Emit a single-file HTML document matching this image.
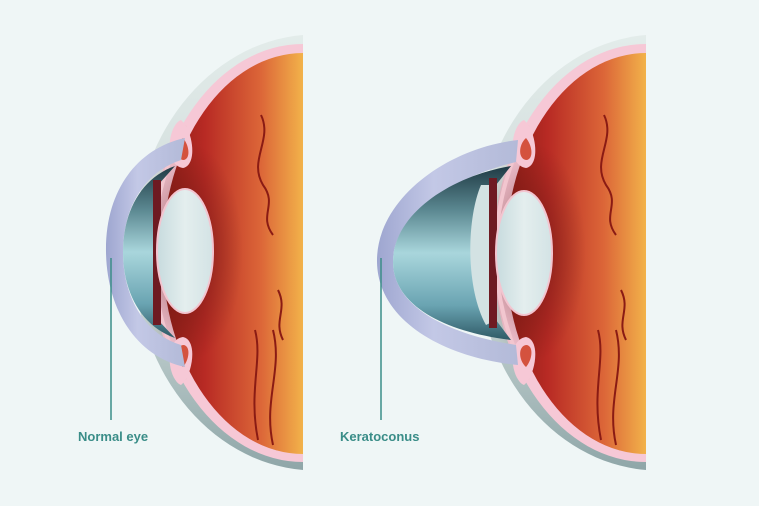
<!DOCTYPE html>
<html><head><meta charset="utf-8"><style>
html,body{margin:0;padding:0;background:#eff6f6;}
svg{display:block}
text{font-family:"Liberation Sans",sans-serif;font-weight:bold;font-size:13px;fill:#3a8d88}
</style></head><body>
<svg width="759" height="506" viewBox="0 0 759 506" xmlns="http://www.w3.org/2000/svg">
<defs>
<linearGradient id="scl" x1="0" y1="0" x2="0" y2="1">
<stop offset="0" stop-color="#e3ecea"/><stop offset="0.6" stop-color="#c9d6d5"/><stop offset="1" stop-color="#8fa6a8"/></linearGradient>
<linearGradient id="ret" x1="0" y1="0" x2="1" y2="0">
<stop offset="0" stop-color="#8a1c16"/><stop offset="0.3" stop-color="#b82a24"/><stop offset="0.7" stop-color="#dc6638"/><stop offset="1" stop-color="#f2b24a"/></linearGradient>
<radialGradient id="dark" cx="0.5" cy="0.5" r="0.5">
<stop offset="0" stop-color="#5a1410" stop-opacity="0.6"/><stop offset="1" stop-color="#5a1410" stop-opacity="0"/></radialGradient>
<linearGradient id="lens" x1="0" y1="0" x2="1" y2="0">
<stop offset="0" stop-color="#c7dbde"/><stop offset="0.5" stop-color="#e4eeee"/><stop offset="1" stop-color="#d3e3e5"/></linearGradient>
<linearGradient id="cha" x1="0" y1="0" x2="0" y2="1">
<stop offset="0" stop-color="#1f3a44"/><stop offset="0.25" stop-color="#5a8790"/><stop offset="0.5" stop-color="#a9d6dc"/><stop offset="0.8" stop-color="#6aa4b2"/><stop offset="1" stop-color="#2f5a66"/></linearGradient>
<linearGradient id="cor" x1="0" y1="0" x2="1" y2="0">
<stop offset="0" stop-color="#9ea6d0"/><stop offset="0.4" stop-color="#c3c8e6"/><stop offset="1" stop-color="#b3bad8"/></linearGradient>
<g id="base">
<path d="M0,35 A182,218 0 0 0 0,470 Z" fill="url(#scl)"/>
<path d="M0,44 A152,208 0 0 0 0,462 Z" fill="#f6c8d6"/>
<path d="M0,53 A140,200 0 0 0 0,454 Z" fill="url(#ret)"/>
<ellipse cx="-115" cy="252" rx="55" ry="110" fill="url(#dark)"/>
<g fill="none" stroke="#8a1b14" stroke-width="2">
<path d="M-42,115 C-30,140 -55,160 -40,185 C-25,205 -45,215 -30,235"/>
<path d="M-48,330 C-40,360 -55,390 -45,440"/>
<path d="M-30,330 C-20,370 -40,400 -30,445"/>
<path d="M-25,290 C-15,310 -30,320 -20,340"/>
</g>
<g fill="none" stroke="#f2c6cf" stroke-width="4">
<path d="M-118,125 C-140,170 -150,210 -150,252 C-150,295 -140,335 -118,380"/>
</g>
<path d="M-122,120 C-135,125 -140,165 -120,168 C-105,165 -110,130 -122,120 Z" fill="#f6c8d6"/>
<path d="M-120,138 C-128,145 -128,160 -119,160 C-112,158 -114,145 -120,138 Z" fill="#d4523e"/>
<path d="M-122,385 C-135,380 -140,340 -120,337 C-105,340 -110,375 -122,385 Z" fill="#f6c8d6"/>
<path d="M-120,367 C-128,360 -128,345 -119,345 C-112,347 -114,360 -120,367 Z" fill="#d4523e"/>
</g>
</defs>

<!-- Left eye -->
<g transform="translate(303,0)">
<use href="#base"/>
<path d="M-118,138 C-165,148 -198,190 -197,252 C-196,312 -165,357 -118,367 L-122,345 C-158,334 -180,298 -180,252 C-180,207 -158,172 -122,160 Z" fill="url(#cor)"/>
<path d="M-128,166 C-162,178 -180,212 -180,252 C-180,292 -162,326 -128,338 L-145,320 L-145,185 Z" fill="url(#cha)"/>
<path d="M-150,180 L-142,180 L-142,325 L-150,325 Z" fill="#6e1a22"/>
<ellipse cx="-118" cy="251" rx="28" ry="62" fill="url(#lens)" stroke="#f3c5d0" stroke-width="2"/>
</g>

<!-- Right eye -->
<g transform="translate(646,0)">
<use href="#base"/>
<path d="M-128,140 C-200,148 -270,200 -269,262 C-268,322 -200,358 -128,365 L-130,345 C-195,335 -253,308 -253,262 C-253,215 -195,178 -130,162 Z" fill="url(#cor)"/>
<path d="M-135,166 C-195,176 -253,214 -253,262 C-253,306 -200,332 -135,340 L-150,320 L-150,185 Z" fill="url(#cha)"/>
<path d="M-165,185 C-180,220 -180,290 -160,325 L-150,320 L-150,185 Z" fill="#d3e2e3"/>
<path d="M-157,178 L-149,178 L-149,328 L-157,328 Z" fill="#6e1a22"/>
<ellipse cx="-122" cy="253" rx="28" ry="62" fill="url(#lens)" stroke="#f3c5d0" stroke-width="2"/>
</g>

<line x1="111" y1="258" x2="111" y2="420" stroke="#3a8d88" stroke-width="1.5"/>
<line x1="381" y1="258" x2="381" y2="420" stroke="#3a8d88" stroke-width="1.5"/>
<text x="78" y="441">Normal eye</text>
<text x="340" y="441">Keratoconus</text>
</svg>
</body></html>
